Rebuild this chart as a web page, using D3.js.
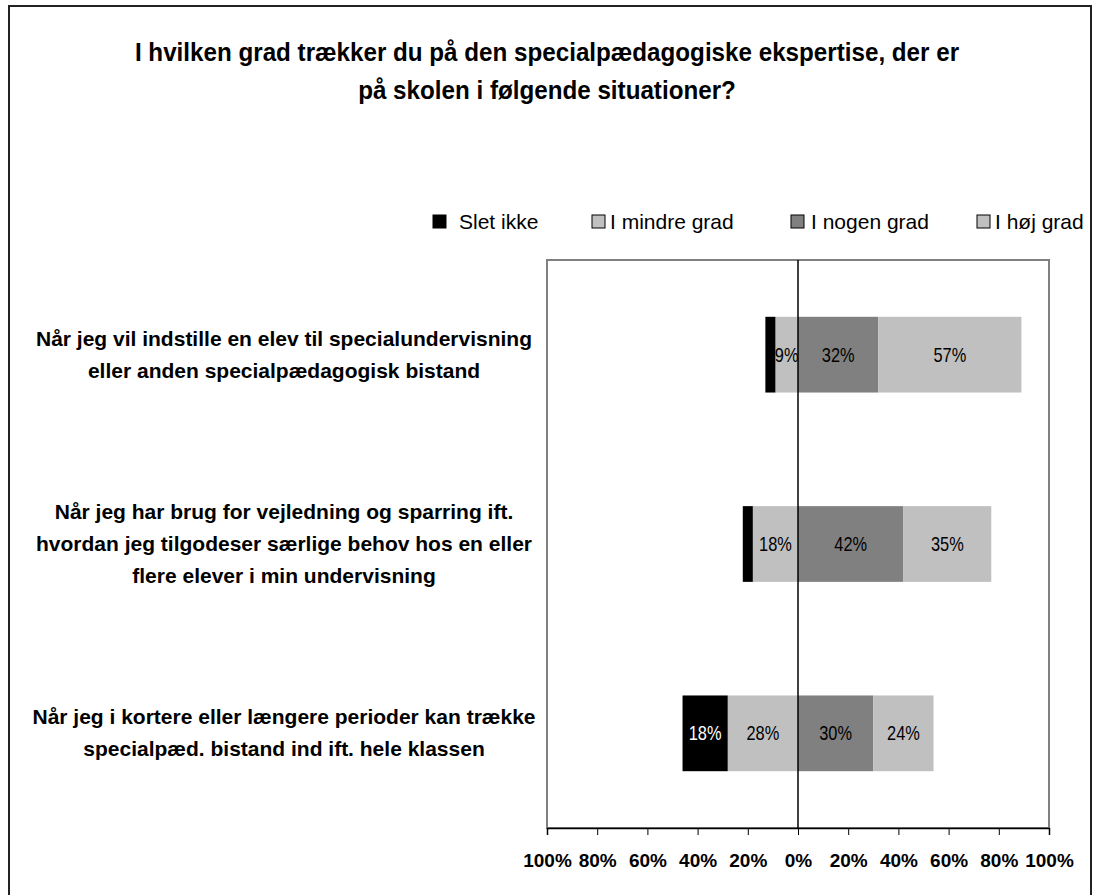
<!DOCTYPE html>
<html lang="da">
<head>
<meta charset="UTF-8" />
<title>Specialpædagogisk ekspertise</title>
<script src="https://d3js.org/d3.v7.min.js"></script>
<style>
  body { margin: 0; background: #fff; }
  svg { display: block; }
  text { font-family: 'Liberation Sans', Arial, sans-serif; }
</style>
</head>
<body>
<svg id="chart" width="1095" height="895"></svg>
<script>
// data
const titleLines = [
  "I hvilken grad trækker du på den specialpædagogiske ekspertise, der er",
  "på skolen i følgende situationer?"
];
const categories = [
  ["Når jeg vil indstille en elev til specialundervisning", "eller anden specialpædagogisk bistand"],
  ["Når jeg har brug for vejledning og sparring ift.", "hvordan jeg tilgodeser særlige behov hos en eller", "flere elever i min undervisning"],
  ["Når jeg i kortere eller længere perioder kan trække", "specialpæd. bistand ind ift. hele klassen"]
];
const seriesNames = ["Slet ikke", "I mindre grad", "I nogen grad", "I høj grad"];
const sletIkke   = [4, 4, 18];
const mindreGrad = [9, 18, 28];
const nogenGrad  = [32, 42, 30];
const hoejGrad   = [57, 35, 24];
const tickValues = [-100, -80, -60, -40, -20, 0, 20, 40, 60, 80, 100];

const colors = ["#000000", "#c0c0c0", "#808080", "#c0c0c0"];

const svg = d3.select("#chart");

// outer frame
svg.append("rect").attr("x", 9).attr("y", 6).attr("width", 1082).attr("height", 900)
  .attr("fill", "#fff").attr("stroke", "#222").attr("stroke-width", 2);

// title (slightly condensed like the original)
svg.append("g").selectAll("text").data(titleLines).enter().append("text")
  .attr("transform", (d, i) => `translate(547,${61 + i * 38}) scale(0.968,1)`)
  .attr("text-anchor", "middle").attr("font-size", 25).attr("font-weight", "bold")
  .text(d => d);

// scales
const x = d3.scaleLinear().domain([-100, 100]).range([547, 1049]);
const y = d3.scaleBand().domain(d3.range(categories.length)).range([260, 828])
  .paddingInner(0.6).paddingOuter(0.3);

// plot area
svg.append("rect").attr("x", 547).attr("y", 260).attr("width", 502).attr("height", 568)
  .attr("fill", "#fff").attr("stroke", "#808080").attr("stroke-width", 2);

// stacked segments: slet ikke + mindre grad to the left, nogen + høj to the right
const segs = [];
categories.forEach((c, i) => {
  segs.push({ row: i, s: 1, x0: -mindreGrad[i], x1: 0, v: mindreGrad[i] });
  segs.push({ row: i, s: 2, x0: 0, x1: nogenGrad[i], v: nogenGrad[i] });
  segs.push({ row: i, s: 3, x0: nogenGrad[i], x1: nogenGrad[i] + hoejGrad[i], v: hoejGrad[i] });
  segs.push({ row: i, s: 0, x0: -mindreGrad[i] - sletIkke[i], x1: -mindreGrad[i], v: sletIkke[i] });
});

// draw series by series so the black segment sits on top of the narrow label next to it
[1, 2, 3, 0].forEach(s => {
  const ds = segs.filter(d => d.s === s);
  const g = svg.append("g");
  g.selectAll("rect").data(ds).enter().append("rect")
    .attr("x", d => x(d.x0)).attr("width", d => x(d.x1) - x(d.x0))
    .attr("y", d => y(d.row)).attr("height", y.bandwidth())
    .attr("fill", colors[s]);
  g.selectAll("text").data(ds.filter(d => d.v >= 5)).enter().append("text")
    .attr("transform", d => `translate(${x((d.x0 + d.x1) / 2)},${y(d.row) + y.bandwidth() / 2 + 7}) scale(0.82,1)`)
    .attr("text-anchor", "middle").attr("font-size", 20)
    .attr("fill", s === 0 ? "#fff" : "#000")
    .text(d => d.v + "%");
});

// zero line
svg.append("line").attr("x1", x(0)).attr("x2", x(0)).attr("y1", 260).attr("y2", 828)
  .attr("stroke", "#000").attr("stroke-width", 1.5);

// x axis
const axis = svg.append("g").attr("transform", "translate(0,828)")
  .call(d3.axisBottom(x).tickValues(tickValues).tickSize(7).tickFormat(d => Math.abs(d) + "%"));
axis.select(".domain").attr("stroke", "#000").attr("stroke-width", 1.5);
axis.selectAll(".tick line").attr("stroke", "#000");
axis.selectAll(".tick text").attr("font-size", 19).attr("font-weight", "bold")
  .attr("font-family", null).attr("fill", "#000").attr("dy", null).attr("y", 39);

// category labels
const cat = svg.append("g").selectAll("g").data(categories).enter().append("g");
cat.each(function (lines, i) {
  const cy = y(i) + y.bandwidth() / 2;
  d3.select(this).selectAll("text").data(lines).enter().append("text")
    .attr("x", 284)
    .attr("y", (d, j) => cy + (j - (lines.length - 1) / 2) * 32 + 7)
    .attr("text-anchor", "middle").attr("font-size", 21).attr("font-weight", "bold")
    .text(d => d);
});

// legend
const legendX = [433, 592, 791, 977];
const legendTextX = [26, 18, 20, 18];
const lg = svg.append("g").selectAll("g").data(seriesNames).enter().append("g")
  .attr("transform", (d, i) => `translate(${legendX[i]},215)`);
lg.append("rect").attr("width", 13).attr("height", 13)
  .attr("fill", (d, i) => colors[i]).attr("stroke", "#000").attr("stroke-width", 1);
lg.append("text").attr("x", (d, i) => legendTextX[i]).attr("y", 14)
  .attr("font-size", 21).text(d => d);
</script>
</body>
</html>
